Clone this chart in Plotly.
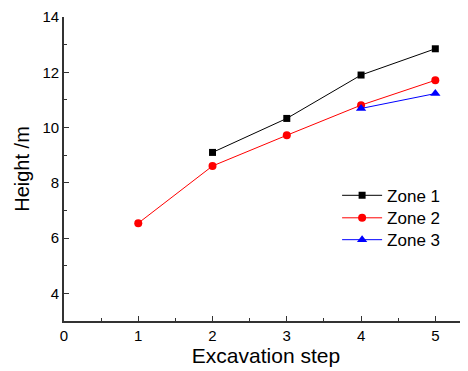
import plotly.graph_objects as go

zone1_x = [2, 3, 4, 5]
zone1_y = [9.1, 10.33, 11.9, 12.85]
zone2_x = [1, 2, 3, 4, 5]
zone2_y = [6.54, 8.61, 9.72, 10.81, 11.71]
zone3_x = [4, 5]
zone3_y = [10.69, 11.23]

FONT = "Liberation Sans, Arial, sans-serif"

fig = go.Figure()
fig.add_trace(go.Scatter(x=zone1_x, y=zone1_y, mode="lines+markers", name="Zone 1",
                         line=dict(color="black", width=1),
                         marker=dict(symbol="square", size=7, color="black"),
                         legend="legend", showlegend=True))
fig.add_trace(go.Scatter(x=zone2_x, y=zone2_y, mode="lines+markers", name="Zone 2",
                         line=dict(color="red", width=1),
                         marker=dict(symbol="circle", size=8, color="red"),
                         legend="legend2", showlegend=True))
fig.add_trace(go.Scatter(x=zone3_x, y=zone3_y, mode="lines+markers", name="Zone 3",
                         line=dict(color="blue", width=1),
                         marker=dict(symbol="triangle-up", size=9, color="blue"),
                         legend="legend3", showlegend=True))

axis_common = dict(showgrid=False, zeroline=False, showline=True, linecolor="#333",
                   linewidth=1.6, ticks="inside", ticklen=5, tickwidth=1.2, tickcolor="#333",
                   tickfont=dict(family=FONT, size=15, color="black"),
                   mirror=False, automargin=False)

fig.update_xaxes(range=[0, 5.44], tickmode="array", tickvals=[0, 1, 2, 3, 4, 5],
                 minor=dict(ticks="inside", ticklen=3, tickcolor="#333", dtick=0.5, tick0=0),
                 title=dict(text="Excavation step", font=dict(family=FONT, size=21, color="black"),
                            standoff=6),
                 **axis_common)
fig.update_yaxes(range=[3, 14], tickmode="array", tickvals=[4, 6, 8, 10, 12, 14],
                 minor=dict(ticks="inside", ticklen=3, tickcolor="#333", dtick=1, tick0=0),
                 title=dict(text="Height /m", font=dict(family=FONT, size=20, color="black"),
                            standoff=8),
                 **axis_common)

leg = dict(xanchor="left", yanchor="middle", bgcolor="rgba(0,0,0,0)",
           font=dict(family=FONT, size=17), itemsizing="trace", itemwidth=40)

# page is offset by the browser's 8px body margin; size chosen so the figure fits the window
fig.update_layout(width=460, height=363, showlegend=True,
                  margin=dict(l=56, r=0, t=9, b=50),
                  paper_bgcolor="white", plot_bgcolor="white",
                  font=dict(family=FONT, color="black"),
                  legend=dict(x=0.676, y=0.412, **leg),
                  legend2=dict(x=0.676, y=0.338, **leg),
                  legend3=dict(x=0.676, y=0.266, **leg))

fig.write_html("out.html")
